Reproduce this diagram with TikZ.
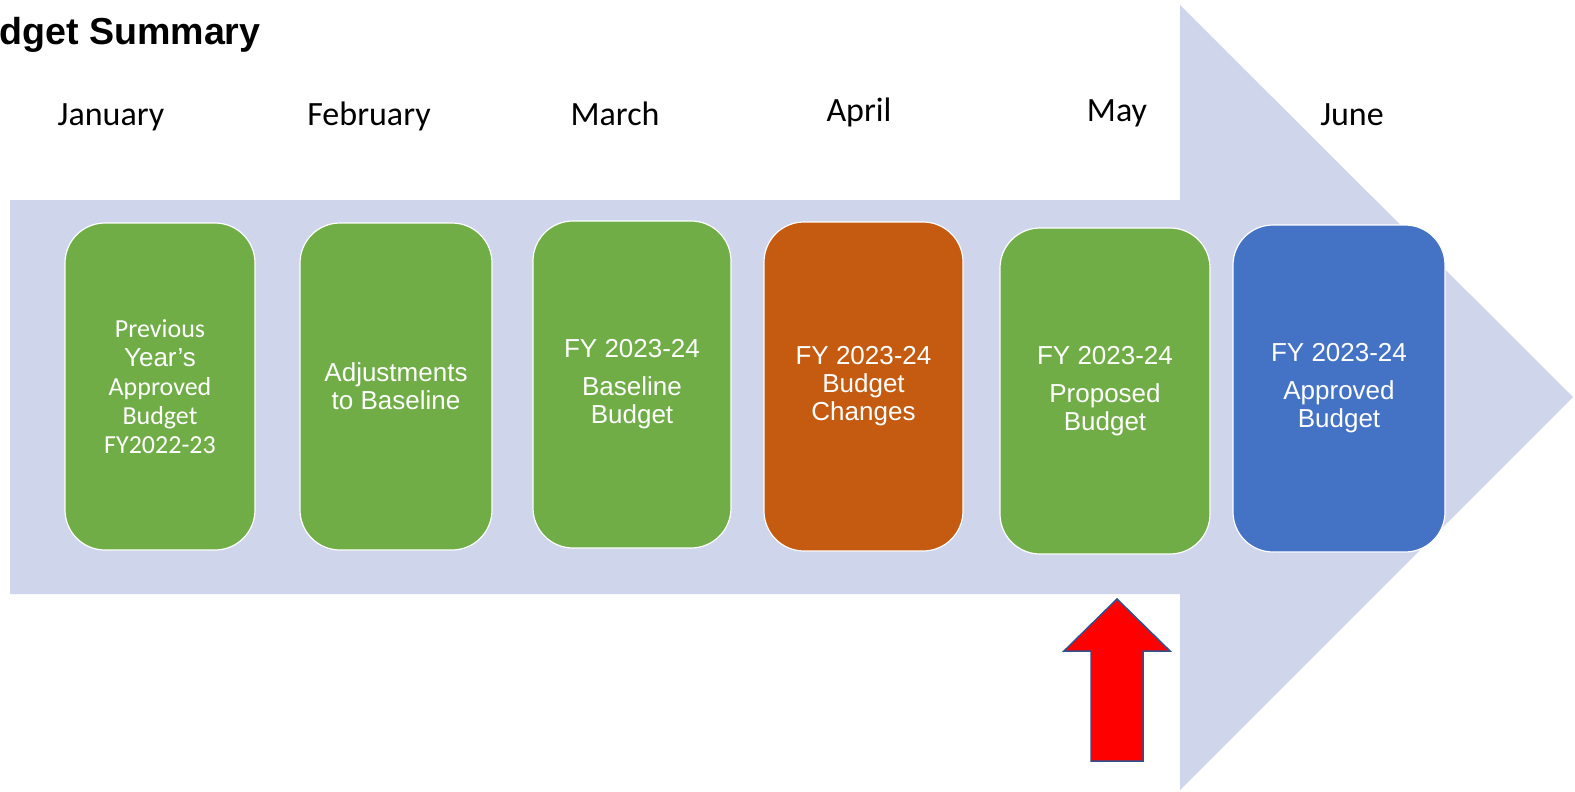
\documentclass[tikz,border=0pt]{standalone}
\usepackage{fontspec}
\setmainfont{Liberation Sans}
\newfontfamily\calibri{Carlito}
\usetikzlibrary{positioning}
\definecolor{bandblue}{HTML}{CFD5EA}
\definecolor{stagegreen}{HTML}{70AD47}
\definecolor{stageorange}{HTML}{C55A11}
\definecolor{stageblue}{HTML}{4472C4}
\definecolor{pointeredge}{HTML}{2F528F}
\tikzset{
	month/.style={anchor=base, font=\calibri\fontsize{17}{20}\selectfont},
	stage/.style={rectangle, rounded corners=20pt, draw=white, line width=0.6pt, text=white, align=center, inner sep=0pt, font=\fontsize{13}{14}\selectfont}
}

\begin{document}
\begin{tikzpicture}[x=0.5pt,y=-0.5pt]
			\useasboundingbox (0,0) rectangle (1575,792);
			\fill[bandblue] (10,200) -- (1180,200) -- (1180,5) -- (1573,397) -- (1180,790) -- (1180,594) -- (10,594) -- cycle;
			\node[anchor=base west, inner sep=0pt, font=\bfseries\fontsize{18.8}{22}\selectfont] (title) at (-1,45) {dget Summary};
			\node[month] (jan) at (111,126) {January};
			\node[month] (feb) at (369,126) {February};
			\node[month] (mar) at (615,126) {March};
			\node[month] (apr) at (859,122) {April};
			\node[month] (may) at (1117,122) {May};
			\node[month] (jun) at (1352,126) {June};
			\node[stage, fill=stagegreen, minimum width=95pt, minimum height=163.5pt] (prev) at (160,386.5)
				{{\calibri Previous}\\[0.5pt]Year’s\\[0.5pt]{\calibri Approved}\\[0.5pt]{\calibri Budget}\\[0.5pt]{\calibri FY2022-23}};
			\node[stage, fill=stagegreen, minimum width=96pt, minimum height=163.5pt] (adjust) at (396,386.5)
				{Adjustments\\to Baseline};
			\node[stage, fill=stagegreen, minimum width=99pt, minimum height=163.5pt] (baseline) at (632,384.5)
				{FY 2023-24\\[5pt]Baseline\\Budget};
			\node[stage, fill=stageorange, minimum width=99.5pt, minimum height=164.5pt] (changes) at (863.5,386.5)
				{FY 2023-24\\Budget\\Changes};
			\node[stage, fill=stagegreen, minimum width=105pt, minimum height=163pt] (proposed) at (1105,391)
				{FY 2023-24\\[5pt]Proposed\\Budget};
			\node[stage, fill=stageblue, minimum width=106pt, minimum height=163.5pt] (approved) at (1339,388.5)
				{FY 2023-24\\[5pt]Approved\\Budget};
			\draw[fill=red, draw=pointeredge, line width=0.75pt] (1117,599) -- (1170,651) -- (1143,651) -- (1143,761) -- (1091,761) -- (1091,651) -- (1064,651) -- cycle;
		\end{tikzpicture}
\end{document}
